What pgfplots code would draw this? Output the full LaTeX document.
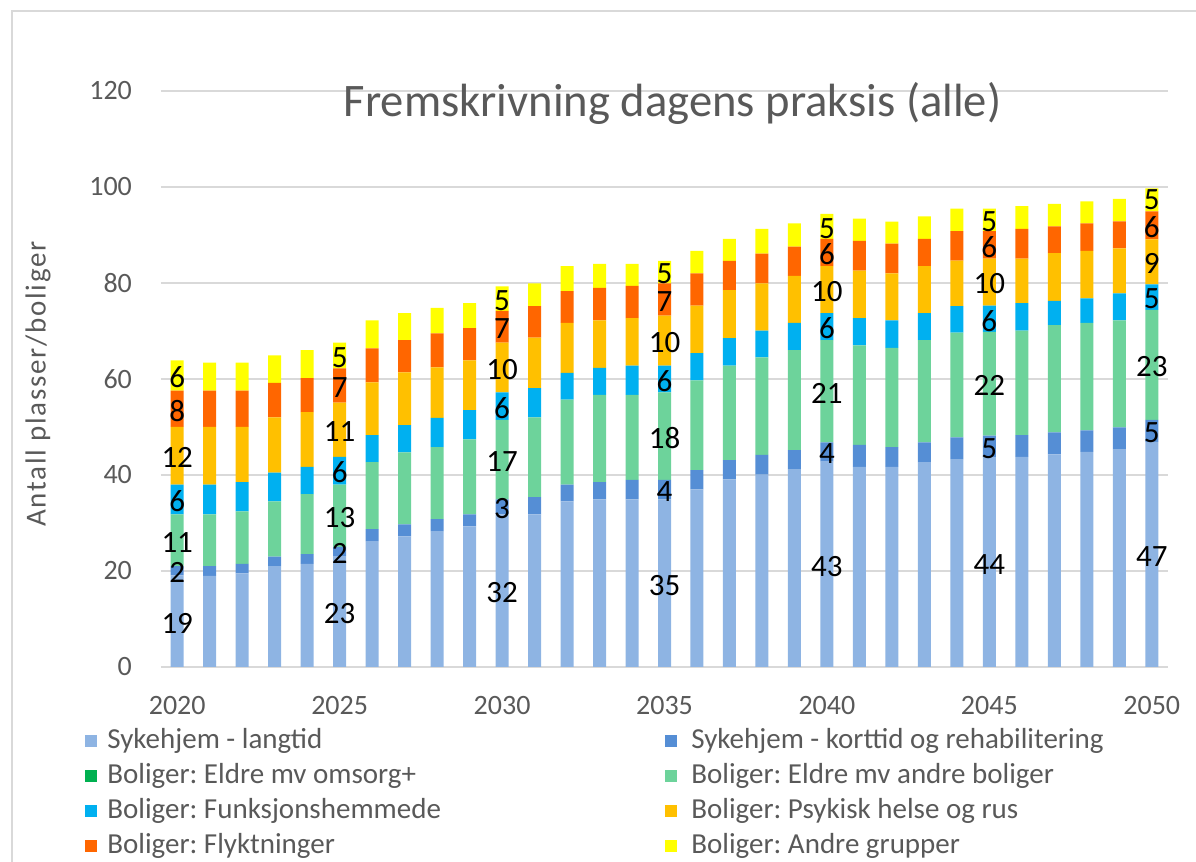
\documentclass[border=0pt]{standalone}
\usepackage{pgfplots}
\pgfplotsset{compat=1.18}
\usepackage{pgfplotstable}
\usepackage{fontspec}
\setmainfont{Carlito}
\frenchspacing
\definecolor{cLT}{HTML}{8EB4E3}
\definecolor{cKT}{HTML}{558ED5}
\definecolor{cOM}{HTML}{00B050}
\definecolor{cAB}{HTML}{6DD39B}
\definecolor{cFH}{HTML}{00B0F0}
\definecolor{cPS}{HTML}{FFC000}
\definecolor{cFL}{HTML}{FF6600}
\definecolor{cAG}{HTML}{FFFF00}
\definecolor{gridc}{HTML}{D9D9D9}
\definecolor{tickc}{HTML}{595959}

\pgfplotstableread{
year lt kt om ab fh ps fl ag
2020 19.1 1.9 0 10.8 6.2 12.0 7.6 6.3
2021 19.0 2.0 0 10.8 6.2 12.0 7.6 5.8
2022 19.5 2.0 0 10.9 6.1 11.5 7.6 5.8
2023 21.0 2.0 0 11.5 6.0 11.5 7.2 5.7
2024 21.5 2.0 0 12.5 5.7 11.4 7.1 5.8
2025 23.1 1.9 0 13.0 5.75 11.35 7.1 5.4
2026 26.2 2.5 0 14.0 5.6 11.0 7.1 5.8
2027 27.2 2.5 0 15.0 5.7 11.0 6.7 5.6
2028 28.3 2.5 0 15.0 6.1 10.5 7.1 5.3
2029 29.3 2.5 0 15.6 6.1 10.4 6.7 5.2
2030 31.8 3.1 0 16.6 5.7 10.4 6.6 5.1
2031 31.8 3.6 0 16.6 6.1 10.5 6.6 4.7
2032 34.5 3.5 0 17.7 5.55 10.45 6.6 5.2
2033 34.9 3.6 0 18.2 5.6 9.9 6.8 5.0
2034 34.9 4.1 0 17.7 6.1 9.9 6.7 4.6
2035 34.9 4.1 0 18.2 5.6 10.4 6.7 4.7
2036 37.0 4.0 0 18.7 5.7 9.9 6.7 4.7
2037 39.1 4.0 0 19.7 5.7 10.0 6.1 4.6
2038 40.1 4.1 0 20.3 5.6 9.8 6.2 5.2
2039 41.2 4.0 0 20.8 5.7 9.8 6.1 4.8
2040 42.8 4.0 0 21.3 5.6 9.8 5.7 5.2
2041 41.7 4.55 0 20.75 5.7 9.9 6.15 4.65
2042 41.7 4.1 0 20.7 5.7 9.8 6.2 4.6
2043 42.7 4.1 0 21.3 5.6 9.8 5.7 4.7
2044 43.3 4.55 0 21.8 5.55 9.45 6.15 4.7
2045 43.6 4.6 0 21.6 5.5 9.8 5.7 4.7
2046 43.75 4.55 0 21.8 5.7 9.3 6.2 4.7
2047 44.3 4.6 0 22.3 5.05 9.95 5.6 4.7
2048 44.8 4.5 0 22.4 5.1 9.9 5.7 4.6
2049 45.3 4.6 0 22.3 5.65 9.35 5.65 4.65
2050 46.9 4.6 0 22.9 5.3 9.4 5.8 4.8
}\data

\pgfplotstableread{
x y lab
2020 9.15 19
2020 19.65 2
2020 26.0 11
2020 34.5 6
2020 43.6 12
2020 53.4 8
2020 60.35 6
2025 11.15 23
2025 23.65 2
2025 31.1 13
2025 40.5 6
2025 49.0 11
2025 58.25 7
2025 64.5 5
2030 15.5 32
2030 32.95 3
2030 42.8 17
2030 53.95 6
2030 62.0 10
2030 70.5 7
2030 76.35 5
2035 17.05 35
2035 36.55 4
2035 47.7 18
2035 59.6 6
2035 67.6 10
2035 76.15 7
2035 81.85 5
2040 21.0 43
2040 44.4 4
2040 57.05 21
2040 70.5 6
2040 78.2 10
2040 85.95 6
2040 91.4 5
2045 21.4 44
2045 45.5 5
2045 58.6 22
2045 72.15 6
2045 79.8 10
2045 87.55 6
2045 92.75 5
2050 23.05 47
2050 48.8 5
2050 62.55 23
2050 76.65 5
2050 84.0 9
2050 91.6 6
2050 97.3 5
}\labs

\begin{document}
\begin{tikzpicture}
\path[use as bounding box] (0,0) rectangle (598pt,431pt);
\draw[line width=0.75pt, color=gridc] (6pt,0pt) -- (6pt,425.5pt) -- (598pt,425.5pt);
\begin{axis}[
  at={(80.5pt,97.5pt)}, anchor=south west, scale only axis,
  width=503.5pt, height=288pt,
  ybar stacked, bar width=6.5pt,
  xmin=2019.5, xmax=2050.5, ymin=0, ymax=120,
  xtick={2020,2025,...,2050}, ytick={0,20,...,120},
  /pgf/number format/1000 sep={},
  /pgf/number format/assume math mode=true,
  ticklabel style={font=\fontsize{14}{16}\selectfont, text=tickc},
  yticklabel style={xshift=-11pt},
  xticklabel style={yshift=-11pt},
  major tick length=0pt,
  axis x line*=bottom, axis y line*=left,
  axis line style={-},
  x axis line style={draw=gridc, line width=0.75pt},
  y axis line style={draw=none},
  ymajorgrids, grid style={draw=gridc, line width=0.75pt},
  title={Fremskrivning dagens praksis (alle)},
  title style={at={(axis description cs:0.508,0.9583)}, anchor=center,
    font=\fontsize{23.3}{27}\selectfont, text=tickc},
  ylabel={\addfontfeatures{LetterSpace=6}Antall plasser/boliger},
  ylabel style={at={(axis description cs:-0.1221,0.4914)}, anchor=center,
    font=\fontsize{14.5}{17}\selectfont, text=tickc},
  legend columns=2,
  legend cell align=left,
  legend style={at={(axis description cs:-0.0755,-0.1041)}, anchor=north west,
    draw=none, fill=none, inner sep=0pt, column sep=0pt, row sep=4pt,
    font=\fontsize{14.5}{17}\selectfont, text=tickc,
    nodes={inner sep=0pt, text height=10.5pt, text depth=3pt}},
  legend image code/.code={\fill[#1] (0pt,-3pt) rectangle (6pt,3pt); \path (11pt,0pt);},
]
\addplot[fill=cLT, draw=none] table[x=year,y=lt] \data;
\addlegendentry{\makebox[279pt][l]{Sykehjem - langtid}}
\addplot[fill=cKT, draw=none] table[x=year,y=kt] \data;
\addlegendentry{\hspace{2pt}Sykehjem - korttid og rehabilitering}
\addplot[fill=cOM, draw=none] table[x=year,y=om] \data;
\addlegendentry{\makebox[279pt][l]{Boliger: Eldre mv omsorg+}}
\addplot[fill=cAB, draw=none] table[x=year,y=ab] \data;
\addlegendentry{\hspace{2pt}Boliger: Eldre mv andre boliger}
\addplot[fill=cFH, draw=none] table[x=year,y=fh] \data;
\addlegendentry{\makebox[279pt][l]{Boliger: Funksjonshemmede}}
\addplot[fill=cPS, draw=none] table[x=year,y=ps] \data;
\addlegendentry{\hspace{2pt}Boliger: Psykisk helse og rus}
\addplot[fill=cFL, draw=none] table[x=year,y=fl] \data;
\addlegendentry{\makebox[279pt][l]{Boliger: Flyktninger}}
\addplot[fill=cAG, draw=none] table[x=year,y=ag] \data;
\addlegendentry{\hspace{2pt}Boliger: Andre grupper}
\end{axis}
\begin{axis}[
  at={(80.5pt,97.5pt)}, anchor=south west, scale only axis,
  width=503.5pt, height=288pt,
  xmin=2019.5, xmax=2050.5, ymin=0, ymax=120,
  hide axis,
]
\addplot[only marks, mark=*, mark size=0pt, mark options={draw=none,fill=none},
  nodes near coords, point meta=explicit symbolic,
  every node near coord/.append style={anchor=center, inner sep=0pt,
    font=\fontsize{15.5}{18}\selectfont, text=black}]
  table[x=x,y=y,meta=lab] \labs;
\end{axis}
\end{tikzpicture}
\end{document}
